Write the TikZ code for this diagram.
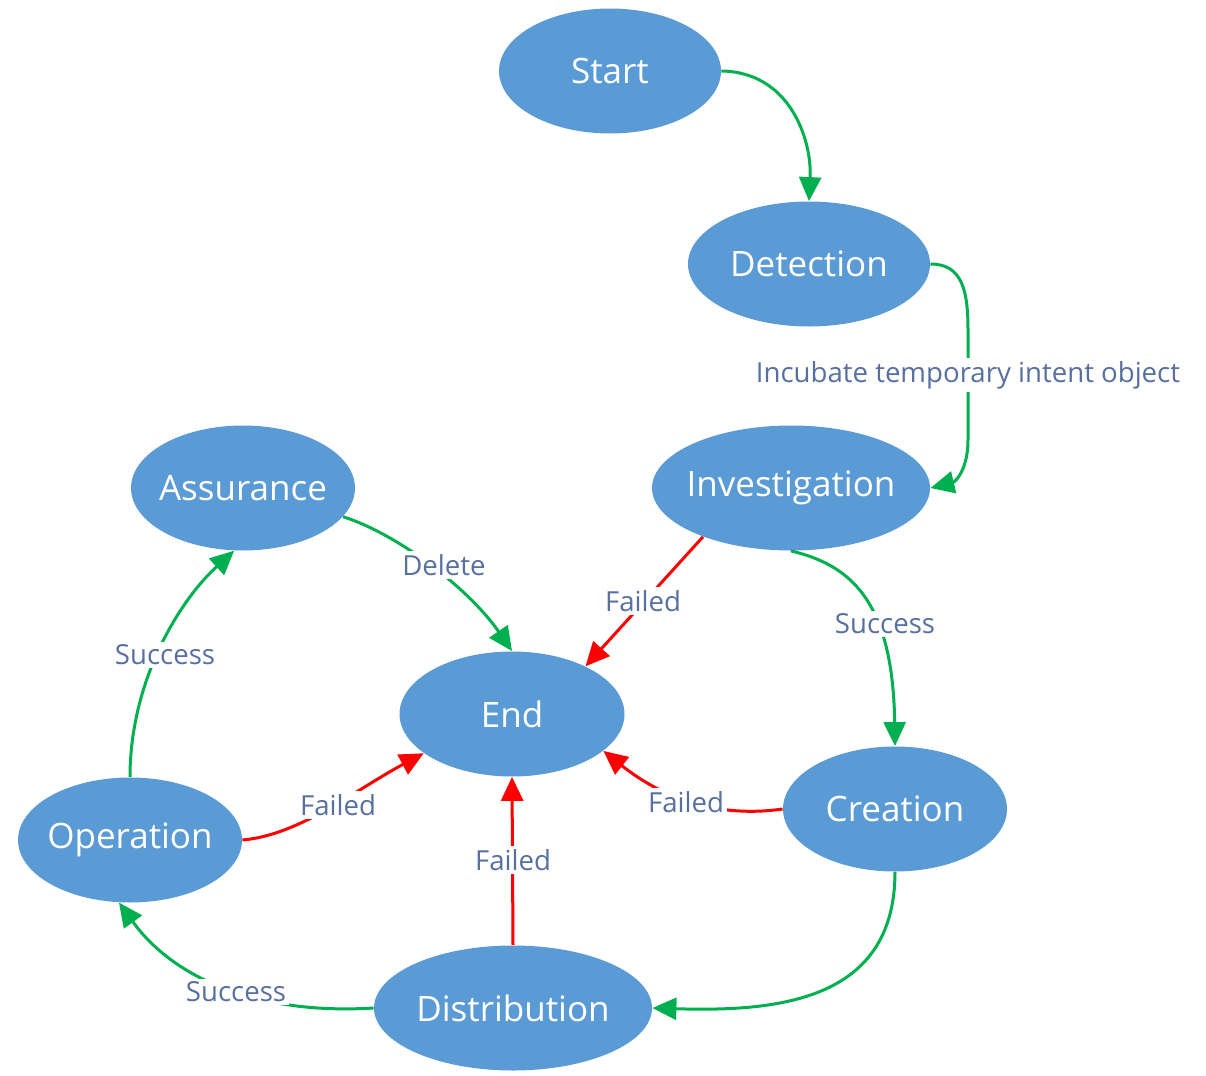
\documentclass[tikz,border=0pt]{standalone}
\usepackage{fontspec}
\setmainfont{Open Sans}
\usetikzlibrary{shapes.geometric,arrows.meta}
\definecolor{nodeblue}{RGB}{91,155,213}
\definecolor{okgreen}{RGB}{0,176,80}
\definecolor{failred}{RGB}{255,0,0}
\definecolor{labelblue}{RGB}{88,112,160}
\newcommand\zwtext[1]{\makebox[0pt]{#1}}
\tikzset{
  state/.style={ellipse, fill=nodeblue, text=white, minimum height=62.5pt,
    inner sep=0pt, font=\fontsize{17.5}{19}\selectfont},
  lbl/.style={fill=white, text=labelblue, inner sep=1.5pt, font=\fontsize{13.8}{15}\selectfont},
  conn/.style={line width=1.5pt, -{Triangle[length=12pt,width=11pt]}},
  good/.style={conn, draw=okgreen},
  bad/.style={conn, draw=failred},
}
\begin{document}
\begin{tikzpicture}[x=0.5pt,y=-0.5pt]
\useasboundingbox (0,0) rectangle (1206,1076);
\node[state, minimum width=111pt] (start) at (610,71) {\zwtext{Start}};
\node[state, minimum width=121pt] (det) at (809,264) {\zwtext{Detection}};
\node[state, minimum width=139pt] (inv) at (791,488) {\zwtext{Investigation}};
\node[state, minimum width=112pt] (ass) at (243,488) {\zwtext{Assurance}};
\node[state, minimum width=112.5pt] (end) at (512,714) {\zwtext{End}};
\node[state, minimum width=112pt] (cre) at (895,809) {\zwtext{Creation}};
\node[state, minimum width=112pt] (op) at (130,840) {\zwtext{Operation}};
\node[state, minimum width=139pt] (dist) at (513,1008) {\zwtext{Distribution}};

% Start -> Detection
\draw[good] (start.east) .. controls (790,72) and (812,140) .. (det.north);
% Detection -> Investigation
\coordinate (d1) at (968,330);
\coordinate (d2) at (968,440);
\draw[good] (det.east) .. controls (962,264) and (968,290) .. (d1) -- (d2)
  .. controls (968,470) and (955,482) .. (inv.east);
\node[lbl] (lincub) at (968,375) {Incubate temporary intent object};
% Investigation -> End (Failed)
\draw[bad] (inv.209) -- (end.33);
\node[lbl] (lf1) at (643,601) {Failed};
% Investigation -> Creation (Success)
\draw[good] (inv.south) .. controls (850,565) and (893,600) .. (cre.north);
\node[lbl] (ls1) at (885,624) {Success};
% Assurance -> End (Delete)
\draw[good] (ass.-16) .. controls (400,535) and (470,590) .. (end.north);
\node[lbl] (ldel) at (444,565) {Delete};
% Operation -> Assurance (Success)
\draw[good] (op.north) .. controls (130,680) and (180,600) .. (ass.-98);
\node[lbl] (ls2) at (165,655) {Success};
% Operation -> End (Failed)
\draw[bad] (op.east) .. controls (300,835) and (355,790) .. (end.204);
\node[lbl] (lf2) at (338,805) {Failed};
% Distribution -> End (Failed)
\draw[bad] (dist.north) -- (end.south);
\node[lbl] (lf3) at (513,860) {Failed};
% Creation -> End (Failed)
\draw[bad] (cre.west) .. controls (720,818) and (665,800) .. (end.-22);
\node[lbl] (lf4) at (686,802) {Failed};
% Creation -> Distribution
\draw[good] (cre.south) .. controls (895,1000) and (780,1012) .. (dist.east);
% Distribution -> Operation (Success)
\draw[good] (dist.west) .. controls (260,1015) and (175,980) .. (op.-100);
\node[lbl] (ls3) at (236,992) {Success};
\end{tikzpicture}
\end{document}
